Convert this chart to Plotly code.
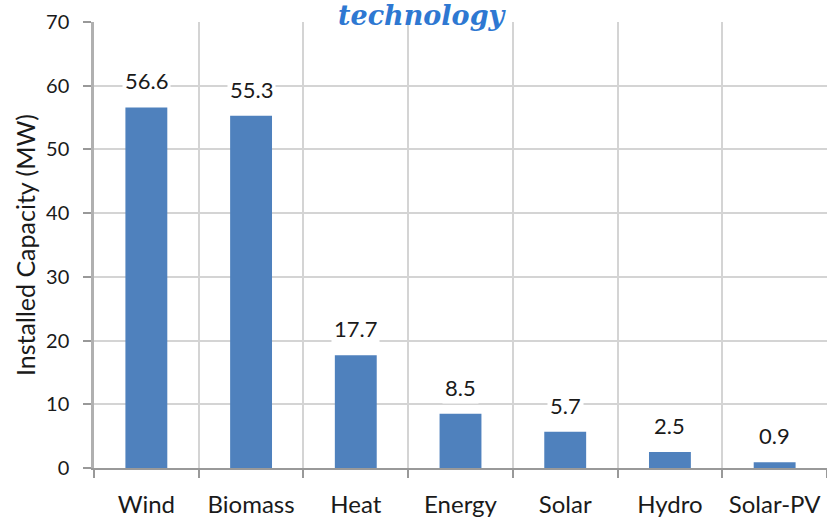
import plotly.graph_objects as go

categories = ["Wind", "Biomass", "Heat", "Energy", "Solar", "Hydro", "Solar-PV"]
values = [56.6, 55.3, 17.7, 8.5, 5.7, 2.5, 0.9]
y_ticks = [0, 10, 20, 30, 40, 50, 60, 70]

fig = go.Figure()
fig.add_trace(go.Bar(x=categories, y=values, marker=dict(color="#4F81BD", line=dict(width=0)),
                     width=0.4, hoverinfo="x+y"))

for c, v in zip(categories, values):
    fig.add_annotation(x=c, y=v, text=f"{v:.1f}", showarrow=False, yanchor="bottom",
                       yshift=10, bgcolor="white", borderpad=2,
                       font=dict(family="Lato, sans-serif", size=22, color="#1a1a1a"))

fig.add_annotation(xref="paper", yref="paper", x=0.448, y=1.0, yshift=-11, yanchor="bottom",
                   text="<b><i>technology</i></b>", showarrow=False,
                   font=dict(family="DejaVu Serif", size=27, color="#2E78D2"))

fig.update_layout(
    width=827, height=517,
    margin=dict(l=94, r=0, t=22, b=49),
    plot_bgcolor="white", paper_bgcolor="white",
    showlegend=False,
    font=dict(family="Lato, sans-serif", color="#1a1a1a"),
    xaxis=dict(tickson="boundaries", showgrid=True, gridcolor="#d4d4d4", gridwidth=1.5,
               ticks="outside", ticklen=8, tickcolor="#999", tickwidth=1.5,
               showline=True, linecolor="#999", linewidth=1.5,
               tickfont=dict(size=24, family="Lato, sans-serif"), ticklabelstandoff=14,
               range=[-0.5, 6.5]),
    yaxis=dict(range=[0, 70], tickvals=y_ticks, showgrid=True, gridcolor="#d4d4d4", gridwidth=1.5,
               ticks="outside", ticklen=8, tickcolor="#999", tickwidth=1.5,
               showline=True, linecolor="#b0b0b0", linewidth=2.5, zeroline=False,
               tickfont=dict(size=20, family="Lato, sans-serif"), ticklabelstandoff=10,
               title=dict(text="Installed Capacity (MW)", font=dict(size=25, family="Lato, sans-serif"),
                          standoff=4)),
)

fig.write_html("out.html")
